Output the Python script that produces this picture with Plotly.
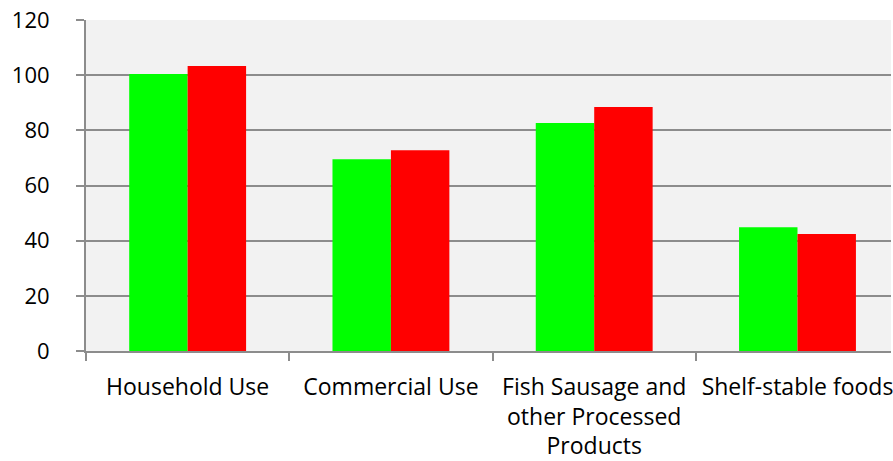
import plotly.graph_objects as go

categories = ["Household Use", "Commercial Use", "Fish Sausage and<br>other Processed<br>Products", "Shelf-stable foods"]
series_green = [100.4, 69.5, 82.7, 44.9]
series_red = [103.3, 72.8, 88.5, 42.4]
y_ticks = [0, 20, 40, 60, 80, 100, 120]

FONT = "Open Sans"
AXIS_GRAY = "#8c8c8c"

fig = go.Figure()
fig.add_trace(go.Bar(x=categories, y=series_green, marker=dict(color="#00ff00", line=dict(width=0)), showlegend=False))
fig.add_trace(go.Bar(x=categories, y=series_red, marker=dict(color="#ff0000", line=dict(width=0)), showlegend=False))

fig.update_layout(
    width=893, height=461,
    margin=dict(l=86, r=0, t=20, b=110),
    paper_bgcolor="white",
    plot_bgcolor="#f2f2f2",
    barmode="group",
    bargap=0.425,
    bargroupgap=0,
    font=dict(family=FONT, size=23, color="black"),
)
fig.update_xaxes(
    type="category",
    range=[-0.5, 3.46],
    showline=True, linecolor=AXIS_GRAY, linewidth=2,
    ticks="outside", tickson="boundaries", ticklen=8, tickcolor=AXIS_GRAY, tickwidth=2,
    showgrid=False,
    tickfont=dict(family=FONT, size=23, color="black"),
    ticklabelstandoff=14,
)
fig.update_yaxes(
    range=[0, 120],
    tickvals=y_ticks,
    showline=True, linecolor=AXIS_GRAY, linewidth=2,
    ticks="outside", ticklen=8, tickcolor=AXIS_GRAY, tickwidth=2,
    showgrid=True, gridcolor=AXIS_GRAY, gridwidth=2,
    zeroline=False,
    tickfont=dict(family=FONT, size=22, color="black"),
    ticklabelstandoff=22,
)

fig.write_html("out.html")
